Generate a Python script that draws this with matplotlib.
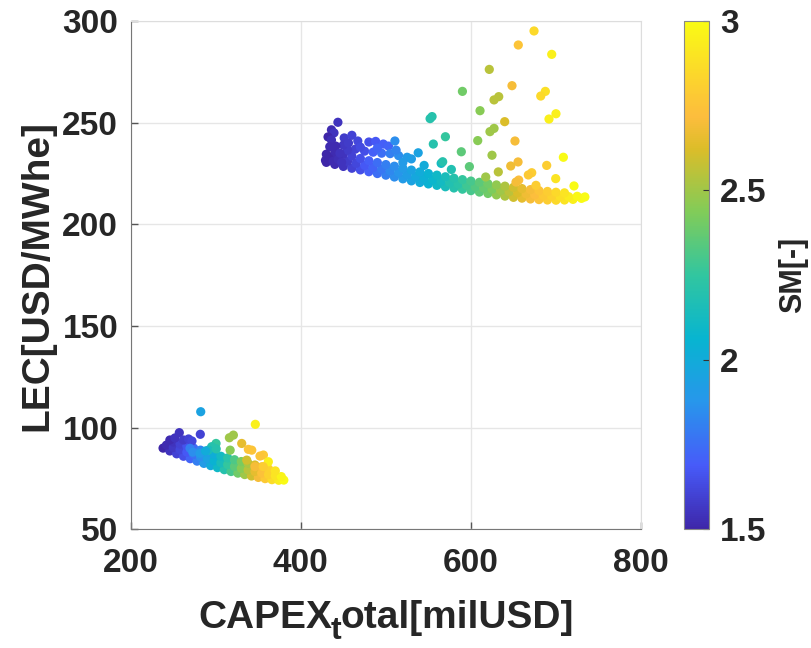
"""
plot.py  -  LEC vs total CAPEX, coloured by solar multiple (SM)
"""

import matplotlib.pyplot as plt
from matplotlib.colors import LinearSegmentedColormap

# ---- data ---------------------------------------------------------------
# upper cluster, dense band (three rows)
upper_band_x = [430, 440, 450, 460, 470, 480, 490, 500, 510, 520, 530, 540, 550, 560, 570, 580,
                590, 600, 610, 620, 630, 640, 650, 660, 670, 680, 690, 700, 710, 720, 730, 734,
                435, 445, 455, 465, 475, 485, 495, 505, 515, 525, 535, 545, 555, 565, 575, 585,
                595, 605, 615, 625, 635, 645, 655, 665, 675, 685, 695, 705, 715, 725,
                440, 450, 460, 470, 480, 490, 500, 510, 520, 530, 540, 550, 560, 570, 580, 590,
                600, 610, 620, 630, 640, 650, 660, 670, 680, 690, 700, 710]
upper_band_y = [230.5, 229.5, 228.5, 227.6, 226.8, 225.9, 225.0, 224.2, 223.3, 222.4, 221.4,
                220.6, 219.9, 219.2, 218.5, 217.9, 217.3, 216.6, 215.9, 215.2, 214.5, 213.9,
                213.3, 212.9, 212.5, 212.2, 212.0, 211.9, 212.0, 212.3, 212.8, 213.5,
                233.0, 232.0, 231.0, 230.0, 229.0, 228.0, 227.2, 226.3, 225.5, 224.5, 223.6,
                222.8, 222.0, 221.2, 220.5, 219.8, 219.2, 218.5, 217.9, 217.3, 216.7, 216.1,
                215.6, 215.0, 214.6, 214.2, 213.9, 213.7, 213.6, 213.8,
                235.5, 234.5, 233.5, 232.4, 231.3, 230.4, 229.4, 228.6, 227.6, 226.7, 225.8,
                225.0, 224.2, 223.4, 222.7, 222.0, 221.3, 220.7, 220.0, 219.4, 218.8, 218.2,
                217.6, 217.1, 216.6, 216.2, 215.8, 215.5]
upper_band_sm = [1.50, 1.52, 1.55, 1.60, 1.65, 1.70, 1.75, 1.80, 1.85, 1.90, 1.95, 2.00, 2.05,
                 2.10, 2.15, 2.20, 2.25, 2.30, 2.35, 2.40, 2.47, 2.53, 2.60, 2.65, 2.70, 2.75,
                 2.80, 2.85, 2.90, 2.95, 3.00, 3.00,
                 1.52, 1.55, 1.58, 1.62, 1.68, 1.72, 1.78, 1.83, 1.87, 1.92, 1.98, 2.03, 2.08,
                 2.12, 2.18, 2.22, 2.28, 2.33, 2.38, 2.43, 2.50, 2.56, 2.62, 2.68, 2.72, 2.78,
                 2.82, 2.88, 2.93, 2.98,
                 1.52, 1.55, 1.60, 1.65, 1.70, 1.75, 1.80, 1.85, 1.90, 1.95, 2.00, 2.05, 2.10,
                 2.15, 2.20, 2.25, 2.30, 2.35, 2.40, 2.47, 2.53, 2.60, 2.65, 2.70, 2.75, 2.80,
                 2.85, 2.90]

# upper cluster, scattered points above the band
upper_pts_x = [443.6, 436, 439, 432, 436, 434, 429, 433, 438, 444, 448,
               451, 460, 467, 464, 455, 450, 480, 488, 497, 503, 510.6,
               475, 485, 495, 505, 515, 525, 538, 530, 545, 565, 577,
               430, 441, 446, 456, 470, 490, 512, 520,
               674.2, 655.7, 695.0, 621.6, 648.3, 590.0, 687.5, 682.1, 632.7, 627.2,
               610.7, 700.0, 691.8, 554.3, 552.0, 639.7, 627.2, 622.4, 570.0, 651.8,
               555.8, 608.0, 588.7, 708.7, 624.8, 566.8, 655.4, 646.8, 689.1, 598.2,
               632.2, 671.5, 667.5, 699.7, 617.4, 656.2, 653.0, 721.2, 676.5]
upper_pts_y = [250.2, 246.5, 245.0, 243.0, 241.5, 238.2, 231.5, 232.5, 231.0, 232.0, 230.5,
               242.5, 243.8, 241.0, 237.0, 236.5, 239.0, 240.5, 240.8, 239.5, 238.5, 241.0,
               236.0, 235.5, 235.0, 234.8, 233.8, 233.0, 235.2, 232.2, 229.0, 230.0, 227.0,
               234.5, 238.5, 235.0, 240.0, 238.0, 237.5, 236.5, 230.5,
               295.1, 288.2, 283.6, 276.2, 268.2, 265.4, 265.4, 263.1, 262.8, 261.2,
               255.9, 254.4, 251.8, 253.0, 252.0, 250.5, 247.2, 245.6, 243.1, 241.0,
               239.5, 241.2, 235.7, 233.0, 234.0, 230.8, 230.7, 228.7, 229.0, 228.4,
               225.8, 225.4, 224.3, 222.5, 223.3, 221.8, 220.8, 218.9, 219.2]
upper_pts_sm = [1.55, 1.52, 1.55, 1.50, 1.53, 1.52, 1.50, 1.50, 1.52, 1.53, 1.55,
                1.58, 1.60, 1.62, 1.60, 1.58, 1.57, 1.65, 1.68, 1.70, 1.72, 1.85,
                1.65, 1.70, 1.75, 1.80, 1.85, 1.90, 1.95, 1.92, 2.00, 2.12, 2.18,
                1.50, 1.52, 1.55, 1.58, 1.63, 1.72, 1.82, 1.90,
                2.85, 2.75, 2.95, 2.55, 2.70, 2.40, 2.88, 2.85, 2.55, 2.55,
                2.45, 2.95, 2.95, 2.20, 2.20, 2.62, 2.50, 2.50, 2.25, 2.70,
                2.20, 2.45, 2.35, 3.00, 2.50, 2.20, 2.70, 2.68, 2.80, 2.35,
                2.55, 2.80, 2.78, 2.90, 2.50, 2.72, 2.70, 3.00, 2.80]

# lower cluster, dense band (three rows)
lower_band_x = [238, 246, 254, 262, 270, 278, 286, 294, 302, 310, 318, 326, 334, 342, 350,
                358, 366, 374, 380,
                242, 250, 258, 266, 274, 282, 290, 298, 306, 314, 322, 330, 338, 346, 354,
                362, 370, 377,
                250, 258, 266, 274, 282, 290, 298, 306, 314, 322, 330, 338, 346, 354, 362, 370]
lower_band_y = [90.0, 88.6, 87.2, 86.0, 84.8, 83.6, 82.5, 81.4, 80.4, 79.4, 78.5, 77.7, 77.0,
                76.3, 75.6, 75.0, 74.5, 74.2, 74.3,
                91.5, 90.3, 89.2, 88.0, 86.9, 85.8, 84.8, 83.8, 82.8, 81.9, 81.0, 80.1, 79.3,
                78.5, 77.7, 77.0, 76.4, 76.0,
                93.0, 92.0, 91.0, 90.0, 89.0, 88.0, 87.0, 86.0, 85.2, 84.3, 83.4, 82.5, 81.7,
                80.8, 79.8, 78.8]
lower_band_sm = [1.50, 1.55, 1.60, 1.65, 1.72, 1.80, 1.90, 2.00, 2.10, 2.20, 2.30, 2.40, 2.50,
                 2.60, 2.70, 2.78, 2.86, 2.94, 3.00,
                 1.52, 1.57, 1.62, 1.68, 1.76, 1.85, 1.95, 2.05, 2.15, 2.25, 2.35, 2.45, 2.55,
                 2.65, 2.74, 2.82, 2.90, 2.97,
                 1.55, 1.60, 1.66, 1.74, 1.82, 1.92, 2.02, 2.12, 2.22, 2.32, 2.42, 2.52, 2.62,
                 2.72, 2.82, 2.90]

# lower cluster, scattered points
lower_pts_x = [282.3, 346.5, 257.1, 281.8, 320.7, 316.0, 330.5, 342.3, 338.3, 356.0, 352.0,
               361.8, 300.3, 295.2, 291.2, 316.9, 336.4, 346.1, 355.8,
               246, 252, 262, 268, 272, 269.7, 273, 281.5, 288, 300.5]
lower_pts_y = [107.9, 101.7, 97.6, 96.8, 96.4, 95.1, 92.3, 89.0, 89.4, 86.6, 86.1,
               83.3, 92.3, 90.7, 89.0, 89.0, 84.1, 80.9, 80.9,
               94.0, 95.0, 94.0, 94.5, 93.5, 89.9, 88.0, 87.4, 88.6, 89.6]
lower_pts_sm = [1.95, 2.95, 1.55, 1.60, 2.50, 2.50, 2.65, 2.75, 2.75, 2.78, 2.75,
                2.95, 2.25, 2.20, 2.15, 2.45, 2.60, 2.70, 2.80,
                1.52, 1.55, 1.58, 1.60, 1.62, 1.80, 1.85, 1.90, 2.00, 2.20]

x_ticks = [200, 400, 600, 800]
y_ticks = [50, 100, 150, 200, 250, 300]
sm_ticks = [1.5, 2, 2.5, 3]
sm_tick_labels = ["1.5", "2", "2.5", "3"]

# MATLAB parula, approximated by anchor colours
PARULA = [(0.000, (0.2422, 0.1504, 0.6603)), (0.125, (0.2780, 0.3556, 0.9777)),
          (0.250, (0.1540, 0.5902, 0.9218)), (0.375, (0.0297, 0.7082, 0.8163)),
          (0.500, (0.1938, 0.7758, 0.6251)), (0.625, (0.5044, 0.7993, 0.3480)),
          (0.750, (0.8634, 0.7406, 0.1596)), (0.8125, (0.9900, 0.7400, 0.2400)),
          (0.875, (0.9892, 0.8136, 0.1885)), (1.000, (0.9769, 0.9839, 0.0805))]

TEXT = "#262626"


def make_plot(save_path="out.png"):
    plt.rcParams["font.family"] = ["Liberation Sans", "DejaVu Sans"]
    plt.rcParams["font.weight"] = "bold"

    parula = LinearSegmentedColormap.from_list("parula", PARULA)

    fig = plt.figure(figsize=(8.11, 6.48), dpi=100)
    ax = fig.add_axes([0.1612, 0.1829, 0.6292, 0.7847])
    cax = fig.add_axes([0.8434, 0.1829, 0.0308, 0.7847])

    ax.grid(True, color="#e6e6e6", linewidth=1)
    ax.set_axisbelow(True)

    for xs, ys, cs in [(upper_band_x, upper_band_y, upper_band_sm),
                       (upper_pts_x, upper_pts_y, upper_pts_sm),
                       (lower_band_x, lower_band_y, lower_band_sm),
                       (lower_pts_x, lower_pts_y, lower_pts_sm)]:
        sc = ax.scatter(xs, ys, c=cs, cmap=parula, vmin=1.5, vmax=3,
                        s=44, linewidths=0, zorder=3)

    ax.set_xlim(200, 800)
    ax.set_ylim(50, 300)
    ax.set_xticks(x_ticks)
    ax.set_yticks(y_ticks)
    ax.tick_params(direction="in", length=5, width=1, color="#555555",
                   labelsize=24, labelcolor=TEXT)
    ax.tick_params(axis="x", pad=13)
    ax.tick_params(axis="y", pad=9)
    for lab in ax.get_xticklabels() + ax.get_yticklabels():
        lab.set_fontweight("bold")
    for side in ["left", "bottom"]:
        ax.spines[side].set_color("#777777")
    for side in ["top", "right"]:
        ax.spines[side].set_color("#dddddd")

    # x label the way MATLAB rendered "CAPEX_total": only the t is lowered
    fig.text(332 / 811, 1 - 628 / 648, "CAPEX", ha="right", va="baseline",
             fontsize=28, fontweight="bold", color=TEXT)
    fig.text(331 / 811, 1 - 646 / 648, "t", ha="left", va="bottom",
             fontsize=23, fontweight="bold", color=TEXT)
    fig.text(341 / 811, 1 - 628 / 648, "otal[milUSD]", ha="left", va="baseline",
             fontsize=28, fontweight="bold", color=TEXT)

    ax.set_ylabel("LEC[USD/MWhe]", fontsize=28, fontweight="bold",
                  color=TEXT, labelpad=5)

    cb = fig.colorbar(sc, cax=cax, ticks=sm_ticks)
    cb.ax.set_yticklabels(sm_tick_labels)
    cb.ax.tick_params(direction="in", length=4, labelsize=24,
                      labelcolor=TEXT, color="#333333", pad=8)
    for lab in cb.ax.get_yticklabels():
        lab.set_fontweight("bold")
    cb.outline.set_edgecolor("#888888")
    cb.set_label("SM[-]", fontsize=22, fontweight="bold", color=TEXT,
                 labelpad=8)

    fig.savefig(save_path, dpi=100)
    plt.close(fig)


if __name__ == "__main__":
    make_plot()
